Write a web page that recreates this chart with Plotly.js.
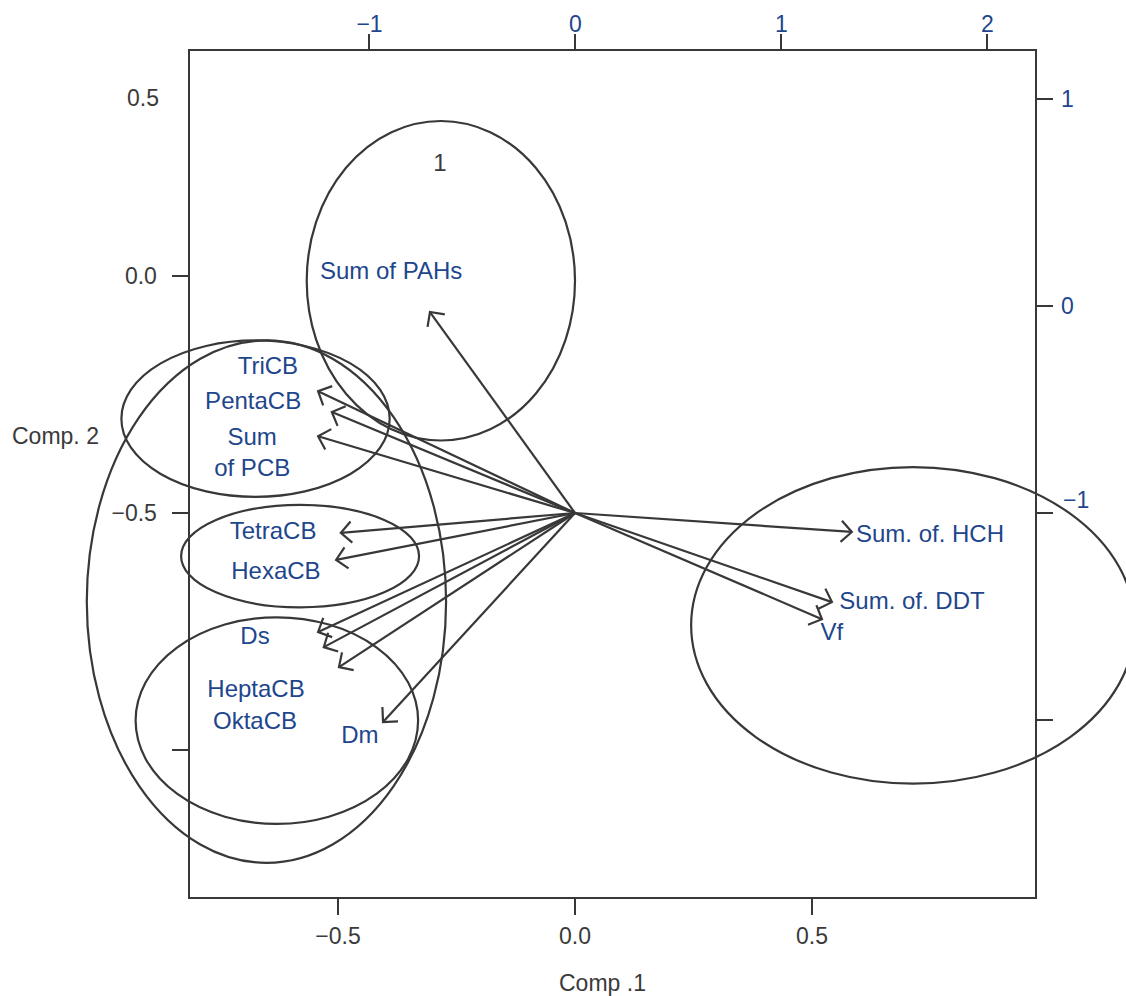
<!DOCTYPE html>
<html>
<head>
<meta charset="utf-8">
<script src="https://cdn.plot.ly/plotly-3.0.1.min.js"></script>
<style>html,body{margin:0;padding:0;background:#fff;}#chart{width:1126px;height:996px;}</style>
</head>
<body>
<div id="chart"></div>
<script>
// ---- data (Comp.1 / Comp.2 units) ----
const varNames = ['Sum of PAHs','TriCB','PentaCB','Sum<br>of PCB','TetraCB','HexaCB','Ds','HeptaCB','OktaCB','Dm','Sum. of. HCH','Sum. of. DDT','Vf'];
const arrowX = [-0.306, -0.542, -0.513, -0.542, -0.494, -0.504, -0.542, -0.530, -0.498, -0.405, 0.584, 0.542, 0.521];
const arrowY = [-0.076, -0.243, -0.287, -0.338, -0.542, -0.599, -0.751, -0.783, -0.825, -0.941, -0.540, -0.688, -0.724];
const labelX = [-0.388, -0.648, -0.679, -0.681, -0.637, -0.631, -0.675, -0.673, -0.675, -0.454, 0.749, 0.711, 0.542];
const labelY = [0.006, -0.194, -0.268, -0.377, -0.542, -0.627, -0.764, -0.876, -0.943, -0.973, -0.549, -0.690, -0.755];
const arrowOriginX = 0;
const arrowOriginY = -0.5;

const obsNames = ['1'];
const obsX = [-0.285];
const obsY = [0.234];

// group ellipses: centre and semi-axes
const ellCX = [-0.283, -0.674, -0.651, -0.580, -0.629, 0.713];
const ellCY = [-0.010, -0.301, -0.687, -0.591, -0.938, -0.737];
const ellRX = [0.283, 0.283, 0.379, 0.251, 0.298, 0.468];
const ellRY = [0.337, 0.165, 0.551, 0.108, 0.218, 0.334];

const bottomTicks = [-0.5, 0, 0.5];
const leftTicks = [0, -0.5, -1];
const leftTickText = ['0.0', '\u22120.5', ''];
const topTicks = [-1, 0, 1, 2];
const rightTicks = [1, 0, -1, -2];
const rightTickText = ['1', '0', '', ''];

// ---- layout geometry ----
const W = 1126, H = 996;
const dx = [0.16918, 0.91874];
const dy = [0.09940, 0.94880];
const xr = [-0.8112, 0.9694];
const yr = [-1.3101, 0.4747];
const x2r = [-1.8689, 2.2282];
const y2r = [-2.8551, 1.2319];

function extend(r, d) {
  const u = (r[1] - r[0]) / (d[1] - d[0]);
  return [r[0] - d[0] * u, r[1] + (1 - d[1]) * u];
}
const x3r = extend(xr, dx);
const y3r = extend(yr, dy);

const GRAY = '#3a3a3a';
const BLUE = '#1e468c';
const LINE = '#383838';
const FONT = 'Liberation Sans, Arial, Helvetica, sans-serif';

// arrows (shaft + open V head)
const kx = W * (dx[1] - dx[0]) / (xr[1] - xr[0]);
const ky = H * (dy[1] - dy[0]) / (yr[1] - yr[0]);
const headLen = 15, headAng = Math.PI / 4;
const ax = [], ay = [];
for (let i = 0; i < arrowX.length; i++) {
  ax.push(arrowOriginX, arrowX[i], null);
  ay.push(arrowOriginY, arrowY[i], null);
  const px = (arrowX[i] - arrowOriginX) * kx, py = (arrowY[i] - arrowOriginY) * ky;
  const L = Math.hypot(px, py);
  const ux = -px / L, uy = -py / L;
  for (const s of [1, -1]) {
    const c = Math.cos(s * headAng), sn = Math.sin(s * headAng);
    const rx = (ux * c - uy * sn) * headLen, ry = (ux * sn + uy * c) * headLen;
    if (s === 1) { ax.push(arrowX[i] + rx / kx, arrowX[i]); ay.push(arrowY[i] + ry / ky, arrowY[i]); }
    else { ax.push(arrowX[i] + rx / kx, null); ay.push(arrowY[i] + ry / ky, null); }
  }
}

const traces = [
  {type: 'scatter', mode: 'lines', x: ax, y: ay, line: {color: LINE, width: 2.2}, hoverinfo: 'skip', xaxis: 'x', yaxis: 'y'},
  {type: 'scatter', mode: 'text', x: labelX, y: labelY, text: varNames, textposition: 'middle center',
   textfont: {family: FONT, size: 24, color: BLUE}, cliponaxis: false, hoverinfo: 'skip'},
  {type: 'scatter', mode: 'text', x: obsX, y: obsY, text: obsNames, textposition: 'middle center',
   textfont: {family: FONT, size: 24, color: GRAY}, cliponaxis: false, hoverinfo: 'skip'},
  {type: 'scatter', mode: 'markers', x: [], y: [], xaxis: 'x2', yaxis: 'y2', hoverinfo: 'skip'},
  {type: 'scatter', mode: 'markers', x: [], y: [], xaxis: 'x3', yaxis: 'y3', hoverinfo: 'skip'}
];

const shapes = ellCX.map((cx, i) => ({
  type: 'circle', xref: 'x3', yref: 'y3',
  x0: cx - ellRX[i], x1: cx + ellRX[i], y0: ellCY[i] - ellRY[i], y1: ellCY[i] + ellRY[i],
  line: {color: LINE, width: 2.2}, fillcolor: 'rgba(0,0,0,0)', layer: 'above'
}));

const axCommon = {showline: true, linecolor: LINE, linewidth: 2, ticks: 'outside', ticklen: 16, tickwidth: 2,
  tickcolor: LINE, showgrid: false, zeroline: false, fixedrange: true};

const layout = {
  width: W, height: H, margin: {l: 0, r: 0, t: 0, b: 0, pad: 0},
  paper_bgcolor: '#fff', plot_bgcolor: 'rgba(0,0,0,0)', showlegend: false,
  font: {family: FONT, size: 23, color: GRAY},
  xaxis: Object.assign({}, axCommon, {domain: dx, range: xr, anchor: 'y', side: 'bottom',
    tickvals: bottomTicks, tickformat: '.1f', ticklabelstandoff: 1, tickfont: {family: FONT, size: 23, color: GRAY}}),
  yaxis: Object.assign({}, axCommon, {domain: dy, range: yr, anchor: 'x', side: 'left',
    tickvals: leftTicks, ticktext: leftTickText, ticklabelstandoff: 11, tickfont: {family: FONT, size: 23, color: GRAY}}),
  xaxis2: Object.assign({}, axCommon, {overlaying: 'x', range: x2r, anchor: 'y', side: 'top', ticklen: 15,
    tickvals: topTicks, ticklabelstandoff: -7, tickfont: {family: FONT, size: 23, color: BLUE}}),
  yaxis2: Object.assign({}, axCommon, {overlaying: 'y', range: y2r, anchor: 'x', side: 'right',
    tickvals: rightTicks, ticktext: rightTickText, ticklabelstandoff: 4, tickfont: {family: FONT, size: 23, color: BLUE}}),
  xaxis3: {domain: [0, 1], range: x3r, anchor: 'y3', visible: false, fixedrange: true},
  yaxis3: {domain: [0, 1], range: y3r, anchor: 'x3', visible: false, fixedrange: true},
  shapes: shapes,
  annotations: [
    {text: 'Comp .1', xref: 'paper', yref: 'paper', x: 0.5355, y: 0.013, xanchor: 'center', yanchor: 'middle',
     showarrow: false, font: {family: FONT, size: 23, color: GRAY}},
    {text: 'Comp. 2', xref: 'paper', yref: 'paper', x: 0.0497, y: 0.5622, xanchor: 'center', yanchor: 'middle',
     showarrow: false, font: {family: FONT, size: 23, color: GRAY}},
    {text: '0.5', xref: 'paper', yref: 'y', x: dx[0], y: 0, xshift: -29, yshift: 178, xanchor: 'right', yanchor: 'middle',
     showarrow: false, font: {family: FONT, size: 23, color: GRAY}},
    {text: '\u22121', xref: 'paper', yref: 'y2', x: dx[1], y: -1, xshift: 26, yshift: 13, xanchor: 'left', yanchor: 'middle',
     showarrow: false, font: {family: FONT, size: 23, color: BLUE}}
  ]
};

Plotly.newPlot('chart', traces, layout, {displayModeBar: false, staticPlot: true});
</script>
</body>
</html>
